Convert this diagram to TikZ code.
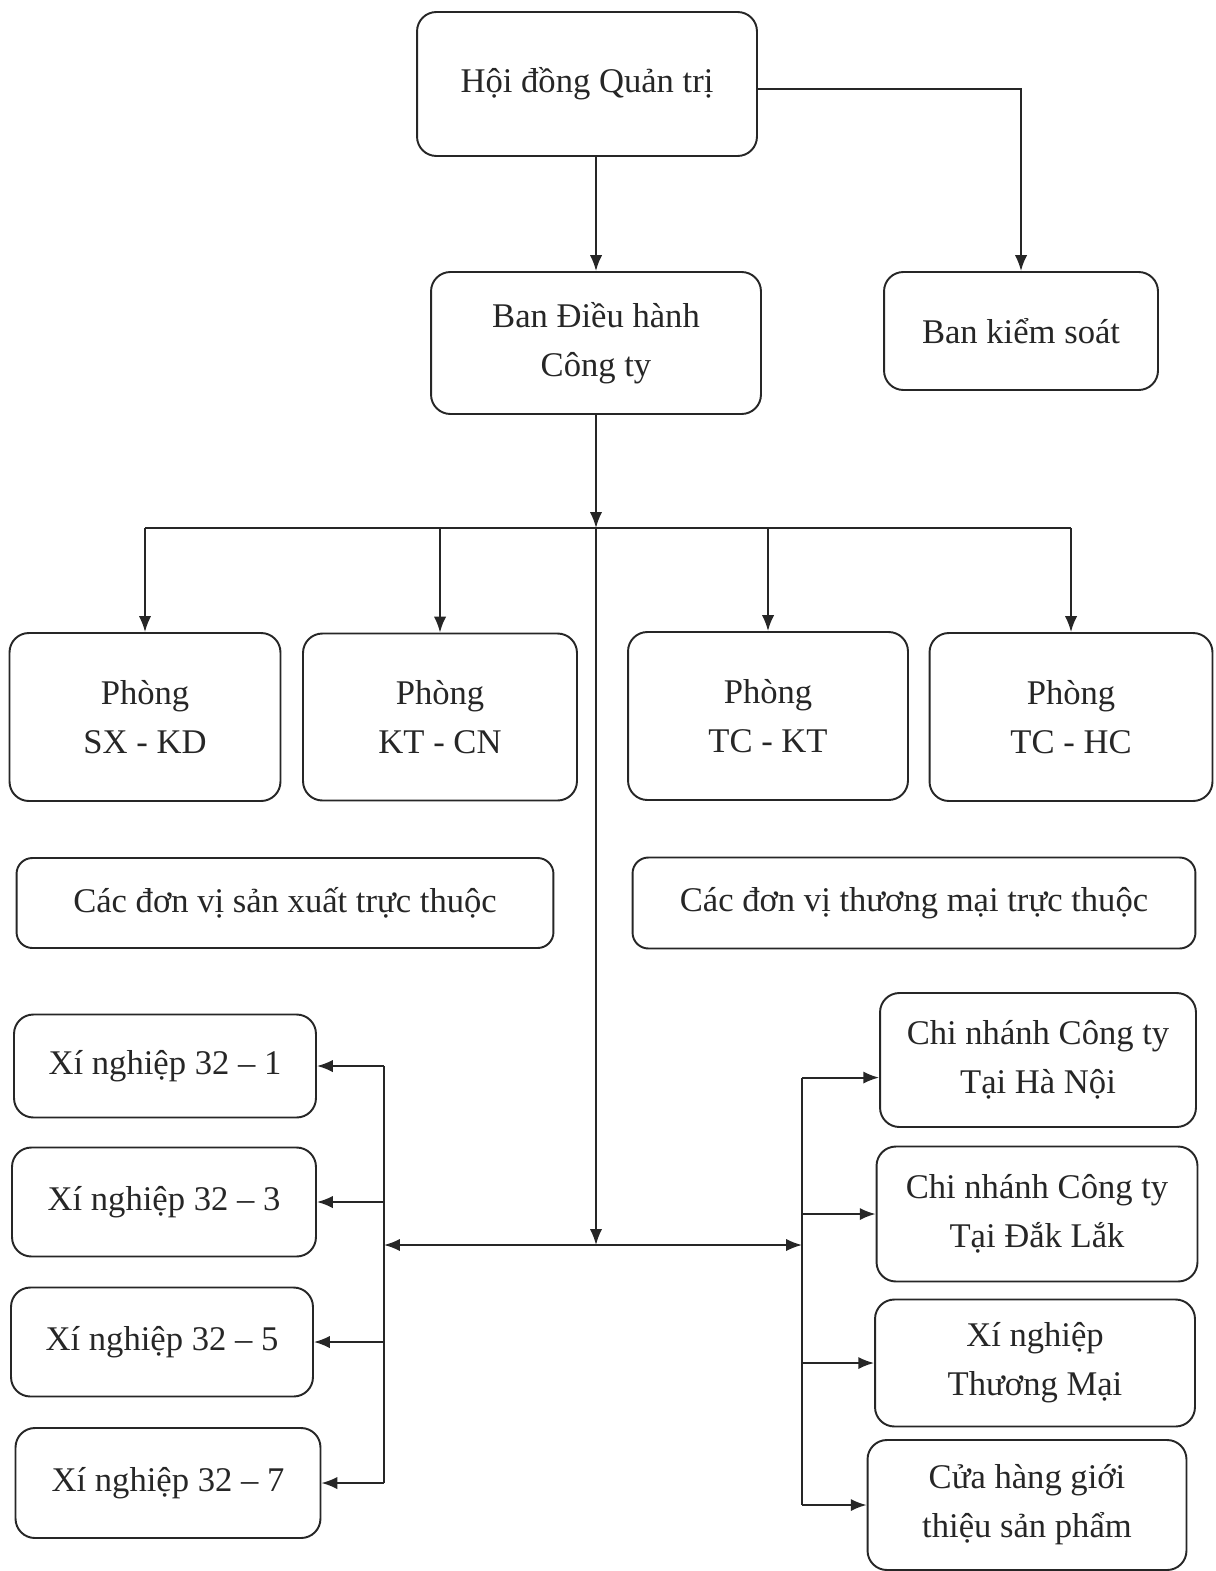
\documentclass[tikz,border=0pt]{standalone}
\usepackage{fontspec}
\setmainfont{Liberation Serif}
\usetikzlibrary{arrows.meta, shapes}

\begin{document}
\begin{tikzpicture}[
    x=0.02cm, y=-0.02cm,
    unit/.style={shape=rectangle, draw=black!85, line width=1.1pt, rounded corners=11pt, align=center, text=black!85, font=\fontsize{19.7}{28}\selectfont},
    link/.style={draw=black!85, line width=1.1pt},
    arr/.style={link, -{Latex[length=9pt, width=7pt]}},
]
\useasboundingbox (0,0) rectangle (1215,1571);

\node[unit, minimum width=6.8cm, minimum height=2.88cm] (hdqt) at (587,84) {Hội đồng Quản trị};
\node[unit, minimum width=6.6cm, minimum height=2.84cm] (bdh) at (596,343) {Ban Điều hành\\Công ty};
\node[unit, minimum width=5.48cm, minimum height=2.36cm] (bks) at (1021,331) {Ban kiểm soát};

\node[unit, minimum width=5.42cm, minimum height=3.36cm] (sxkd) at (145,717) {Phòng\\SX - KD};
\node[unit, minimum width=5.48cm, minimum height=3.34cm] (ktcn) at (440,717) {Phòng\\KT - CN};
\node[unit, minimum width=5.6cm, minimum height=3.36cm] (tckt) at (768,716) {Phòng\\TC - KT};
\node[unit, minimum width=5.66cm, minimum height=3.36cm] (tchc) at (1071,717) {Phòng\\TC - HC};

\node[unit, rounded corners=9pt, minimum width=10.74cm, minimum height=1.8cm] (dvsx) at (285,903) {Các đơn vị sản xuất trực thuộc};
\node[unit, rounded corners=9pt, minimum width=11.26cm, minimum height=1.82cm] (dvtm) at (914,903) {Các đơn vị thương mại trực thuộc};

\node[unit, minimum width=6.04cm, minimum height=2.06cm] (xn1) at (165,1066) {Xí nghiệp 32 – 1};
\node[unit, minimum width=6.08cm, minimum height=2.18cm] (xn3) at (164,1202) {Xí nghiệp 32 – 3};
\node[unit, minimum width=6.04cm, minimum height=2.18cm] (xn5) at (162,1342) {Xí nghiệp 32 – 5};
\node[unit, minimum width=6.1cm, minimum height=2.2cm] (xn7) at (168,1483) {Xí nghiệp 32 – 7};

\node[unit, minimum width=6.32cm, minimum height=2.68cm] (cnhn) at (1038,1060) {Chi nhánh Công ty\\Tại Hà Nội};
\node[unit, minimum width=6.42cm, minimum height=2.7cm] (cndl) at (1037,1214) {Chi nhánh Công ty\\Tại Đắk Lắk};
\node[unit, minimum width=6.4cm, minimum height=2.54cm] (xntm) at (1035,1363) {Xí nghiệp\\Thương Mại};
\node[unit, minimum width=6.38cm, minimum height=2.6cm] (chsp) at (1027,1505) {Cửa hàng giới\\thiệu sản phẩm};

\coordinate (bus) at (596,528);
\coordinate (junc) at (596,1245);
\coordinate (lbus) at (384,1245);
\coordinate (rbus) at (802,1245);
\coordinate (hnin) at ([yshift=-10pt]cnhn.west);

% top
\draw[arr] (hdqt.south -| bdh.north) -- (bdh.north);
\draw[arr] ([yshift=-3pt]hdqt.east) -| (bks.north);
\draw[arr] (bdh.south) -- (bus);
\draw[link] (sxkd.north |- bus) -- (tchc.north |- bus);
\foreach \p in {sxkd, ktcn, tckt, tchc}
    \draw[arr] (\p.north |- bus) -- (\p.north);

% bottom
\draw[arr] (bus) -- (junc);
\draw[arr] (junc) -- (lbus);
\draw[arr] (junc) -- (rbus);
\draw[link] (lbus |- xn1.east) -- (lbus |- xn7.east);
\foreach \x in {xn1, xn3, xn5, xn7}
    \draw[arr] (lbus |- \x.east) -- (\x.east);
\draw[link] (rbus |- hnin) -- (rbus |- chsp.west);
\draw[arr] (rbus |- hnin) -- (hnin);
\foreach \c in {cndl, xntm, chsp}
    \draw[arr] (rbus |- \c.west) -- (\c.west);
\end{tikzpicture}
\end{document}
